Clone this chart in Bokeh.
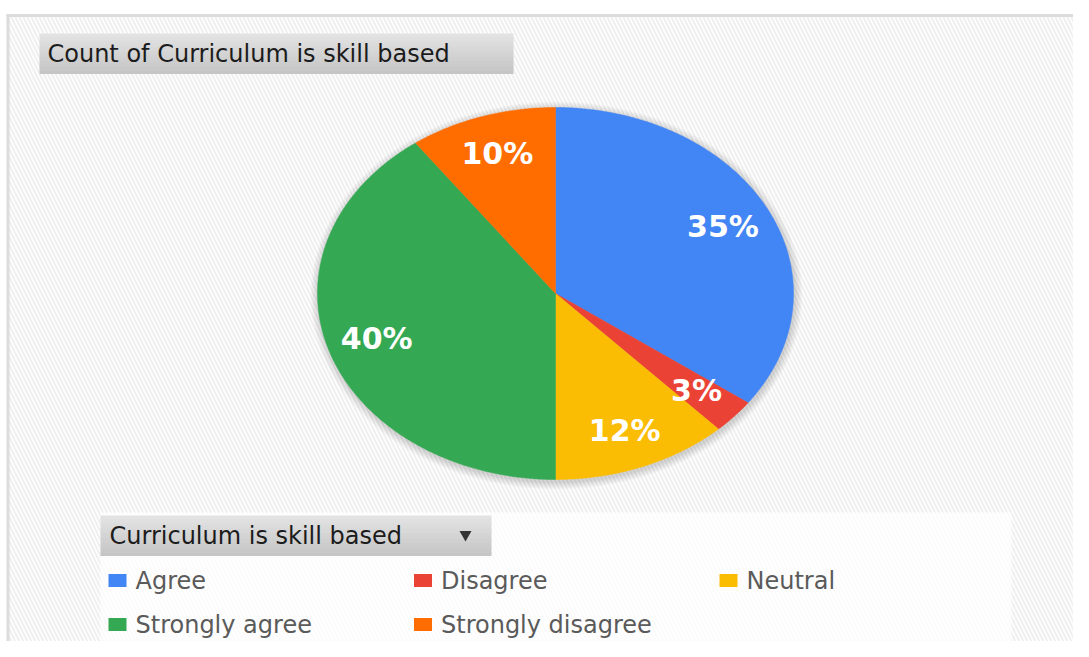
import numpy as np
from bokeh.plotting import figure
from bokeh.models import ColumnDataSource, Range1d, Label
from bokeh.core.properties import value
from bokeh.embed import file_html
from bokeh.resources import INLINE

# ---- data ----
title = "Count of Curriculum is skill based"
legend_title = "Curriculum is skill based"
categories = ["Agree", "Disagree", "Neutral", "Strongly agree", "Strongly disagree"]
percents = [35, 3, 12, 40, 10]
colors = ["#4285f4", "#ea4335", "#fbbc04", "#34a853", "#ff6d01"]

# ---- layout (plot pixels, y downward) ----
W, H = 1073, 641
CX, CY, RX, RY = 555, 293, 238, 186

p = figure(width=W, height=H, output_backend="svg", toolbar_location=None,
           x_range=Range1d(0, W), y_range=Range1d(H, 0), min_border=0)
p.axis.visible = False
p.grid.visible = False
p.outline_line_color = None
p.background_fill_color = "white"
p.border_fill_color = "white"

# hatched background and frame
p.quad(left=[8], right=[W], top=[16], bottom=[H], fill_color="#fdfdfd",
       hatch_pattern="\\", hatch_color="#efefef", hatch_scale=8, hatch_weight=1.8,
       line_color=None)
p.segment(x0=[6], y0=[15], x1=[W], y1=[15], line_color="#dcdcdc", line_width=3)
p.segment(x0=[7.5], y0=[14], x1=[7.5], y1=[H], line_color="#dcdcdc", line_width=3)

def gradient_box(x0, x1, y0, y1, c_top, c_bot, n=12):
    t = np.array([int(c_top[i:i + 2], 16) for i in (1, 3, 5)], float)
    b = np.array([int(c_bot[i:i + 2], 16) for i in (1, 3, 5)], float)
    edges = np.linspace(y0, y1, n + 1)
    for k in range(n):
        c = t + (b - t) * (k + 0.5) / n
        col = "#%02x%02x%02x" % tuple(int(round(v)) for v in c)
        p.quad(left=[x0], right=[x1], top=[edges[k]], bottom=[edges[k + 1] + 0.6],
               fill_color=col, line_color=None)

# title box
gradient_box(39, 513, 33, 73, "#e4e4e4", "#c4c4c4")
p.add_layout(Label(x=47, y=53, text=title, text_font="DejaVu Sans",
                   text_font_size="24px", text_color="#1c1c1c",
                   text_baseline="middle", text_align="left"))

# pie shadow
for k in range(1, 9):
    p.ellipse(x=[CX + 1], y=[CY + 2], width=[2 * (RX + k)], height=[2 * (RY + k)],
              fill_color="#000000", fill_alpha=0.02, line_color=None)

# pie slices (ellipse through scales)
vals = np.array(percents, float)
frac = vals / vals.sum()
ends = np.cumsum(frac) * 2 * np.pi
starts = ends - frac * 2 * np.pi
xs, ys = [], []
for s, e in zip(starts, ends):
    t = np.linspace(s, e, max(4, int((e - s) / (2 * np.pi) * 400)))
    xs.append(np.concatenate([[CX], CX + RX * np.sin(t)]).tolist())
    ys.append(np.concatenate([[CY], CY - RY * np.cos(t)]).tolist())
p.patches(xs=xs, ys=ys, fill_color=colors, line_color=colors, line_width=0.5)

# percentage labels
mid = (starts + ends) / 2
lr = 0.79
lab_src = ColumnDataSource(dict(
    x=CX + lr * RX * np.sin(mid), y=CY - lr * RY * np.cos(mid),
    t=["%d%%" % v for v in percents]))
p.text(x="x", y="y", text="t", source=lab_src, text_color="white",
       text_font=value("DejaVu Sans"), text_font_style="bold",
       text_font_size="30px", text_align="center", text_baseline="middle")

# legend area
p.quad(left=[100], right=[1011], top=[512], bottom=[H], fill_color="white",
       fill_alpha=0.75, line_color=None)
gradient_box(100, 491, 515, 555, "#e4e4e4", "#c4c4c4")
p.add_layout(Label(x=109, y=535, text=legend_title, text_font="DejaVu Sans",
                   text_font_size="24px", text_color="#1c1c1c",
                   text_baseline="middle", text_align="left"))
p.scatter(x=[465], y=[534], marker="inverted_triangle", size=12,
          fill_color="#333333", line_color=None)

idx = np.arange(len(categories))
col = idx % 3
row = idx // 3
sq_x = 117 + col * 305.5
sq_y = 580 + row * 44
leg_src = ColumnDataSource(dict(x=sq_x, y=sq_y, tx=sq_x + 18, c=colors, t=categories))
p.rect(x="x", y="y", width=18, height=13, source=leg_src, fill_color="c", line_color=None)
p.text(x="tx", y="y", text="t", source=leg_src, text_color="#5a5a5a",
       text_font=value("DejaVu Sans"), text_font_size="24px",
       text_align="left", text_baseline="middle")

open("out.html", "w").write(file_html(p, INLINE))
